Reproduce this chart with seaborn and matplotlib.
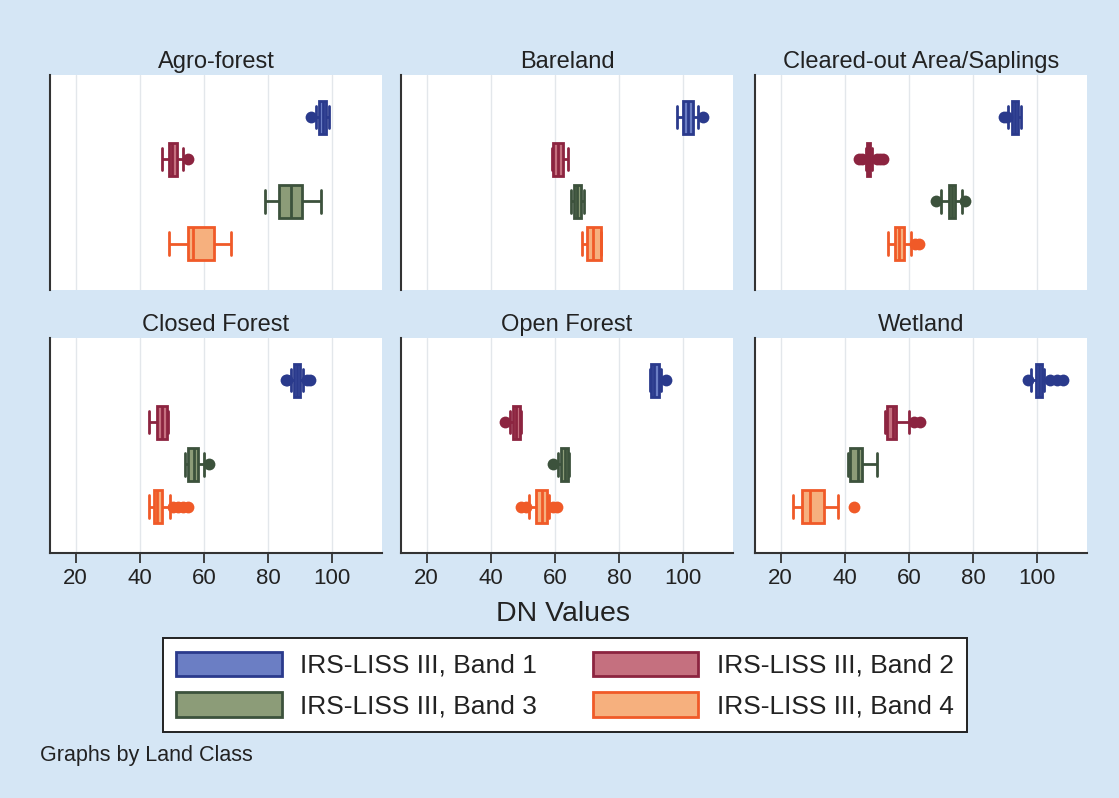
import matplotlib
matplotlib.use('Agg')
import matplotlib.pyplot as plt
from matplotlib.patches import Patch
import numpy as np
import seaborn as sns
import pandas as pd

clases = ['Agro-forest', 'Bareland', 'Cleared-out Area/Saplings',
          'Closed Forest', 'Open Forest', 'Wetland']
bandas = ['IRS-LISS III, Band 1', 'IRS-LISS III, Band 2',
          'IRS-LISS III, Band 3', 'IRS-LISS III, Band 4']

# resumen por banda: bigote inf, Q1, mediana, Q3, bigote sup
agro_forest = [[95, 96, 97, 98, 99], [47, 49, 50, 51.5, 53.5],
               [79, 83.5, 87, 90.5, 96.5], [49, 55, 56.5, 63, 68.5]]
bareland = [[98, 100, 101.5, 103, 104.5], [59, 59.5, 61, 62.5, 64],
            [65, 66, 67, 68, 69], [68.5, 70, 72, 74.5, 74.5]]
cleared_out = [[91, 92, 93, 94, 95], [46.5, 47, 47.5, 48, 48.5],
               [70, 72.5, 73.5, 74.5, 76.5], [53.5, 55.5, 57, 58.5, 60.5]]
closed_forest = [[87, 88, 89, 90, 91], [43, 45.5, 47, 48.5, 48.7],
                 [54, 55, 57, 58, 60], [43, 44.5, 45.5, 47, 49.5]]
open_forest = [[89.5, 90, 91, 92.5, 93], [46, 47, 48, 49, 49.5],
               [61, 62, 63, 64, 64.5], [52, 54, 56, 57.5, 58]]
wetland = [[98, 99.5, 100.5, 101.5, 102], [52.5, 53, 55, 56, 60],
           [41, 41.5, 44, 45.5, 50], [24, 26.5, 29, 33.5, 38]]

# valores atípicos por banda
atip_agro = [[93.5], [55], [], []]
atip_bare = [[106], [], [], []]
atip_cleared = [[89.5, 90.5], [44.5, 45.5, 50, 51, 52], [68.5, 77.5], [62, 63]]
atip_closed = [[85.5, 86, 92, 93], [], [61.5], [50.5, 52, 53.5, 55]]
atip_open = [[94.5], [44.5], [59.5], [49.5, 51, 59.5, 60.5]]
atip_wet = [[97, 104, 106, 108], [61.5, 63.5], [], [43]]

cajas = [agro_forest, bareland, cleared_out, closed_forest, open_forest, wetland]
atipicos = [atip_agro, atip_bare, atip_cleared, atip_closed, atip_open, atip_wet]

relleno = ['#6b7ec4', '#c5707f', '#8c9c78', '#f6b07e']
borde = ['#2a3a8c', '#8c2440', '#3c523c', '#f05a28']
fondo = '#d5e6f5'
ANCHO_CAJA = 0.78

filas = []
filas_atip = []
for clase, caja, atip in zip(clases, cajas, atipicos):
    for banda, valores, extra in zip(bandas, caja, atip):
        filas += [{'clase': clase, 'banda': banda, 'dn': v} for v in valores]
        filas_atip += [{'clase': clase, 'banda': banda, 'dn': v} for v in extra]
df = pd.DataFrame(filas)
df_atip = pd.DataFrame(filas_atip)

sns.set_theme(style='white')
plt.rcParams['font.family'] = ['Liberation Sans', 'DejaVu Sans']

W, H = 1119, 798
fig = plt.figure(figsize=(W / 100, H / 100), dpi=100, facecolor=fondo)

lefts = [50, 401, 755]
tops = [75, 338]
ancho, alto = 332, 215

for i, clase in enumerate(clases):
    fila, col = divmod(i, 3)
    ax = fig.add_axes([lefts[col] / W, 1 - (tops[fila] + alto) / H, ancho / W, alto / H])
    ax.set_facecolor('white')
    for x in [20, 40, 60, 80, 100]:
        ax.axvline(x, color='#e3e7eb', lw=1, zorder=0)

    sub = df[df['clase'] == clase]
    sub_atip = df_atip[df_atip['clase'] == clase]
    for j, banda in enumerate(bandas):
        n_antes = len(ax.lines)
        sns.boxplot(data=sub[sub['banda'] == banda], x='dn', y='banda', order=bandas,
                    whis=(0, 100), width=ANCHO_CAJA, color=relleno[j], linecolor=borde[j],
                    linewidth=2, saturation=1, fliersize=0, ax=ax)
        # alargar los topes de los bigotes (estilo Stata)
        for ln in ax.lines[n_antes:]:
            xd, yd = np.asarray(ln.get_xdata()), np.asarray(ln.get_ydata())
            if len(xd) == 2 and xd[0] == xd[1] and abs(yd[1] - yd[0]) < 0.7 * ANCHO_CAJA:
                c = yd.mean()
                ln.set_ydata([c - 0.34 * ANCHO_CAJA, c + 0.34 * ANCHO_CAJA])
        pts = sub_atip[sub_atip['banda'] == banda]
        if len(pts):
            sns.stripplot(data=pts, x='dn', y='banda', order=bandas, jitter=False,
                          color=borde[j], size=8.5, ax=ax, zorder=4)

    ax.set_xlim(12, 115.5)
    ax.set_ylim(4.1, -1.0)
    ax.set_xlabel('')
    ax.set_ylabel('')
    ax.set_yticks([])
    ax.set_xticks([20, 40, 60, 80, 100])
    ax.set_title(clase, fontsize=17, color='#222222', pad=5)
    for s in ['top', 'right']:
        ax.spines[s].set_visible(False)
    ax.spines['left'].set_color('#333333')
    ax.spines['left'].set_linewidth(1.5)
    if fila == 0:
        ax.spines['bottom'].set_visible(False)
        ax.tick_params(axis='x', bottom=False, labelbottom=False)
    else:
        ax.spines['bottom'].set_color('#333333')
        ax.spines['bottom'].set_linewidth(1.5)
        ax.tick_params(axis='x', bottom=True, direction='out', length=7, width=1.3,
                       color='#333333', labelsize=16, labelcolor='#222222', pad=4)

fig.text(563 / W, 1 - 614 / H, 'DN Values', ha='center', va='center',
         fontsize=20.5, color='#222222')

# orden por filas: Band 1 | Band 2 / Band 3 | Band 4
orden = [0, 2, 1, 3]
handles = [Patch(facecolor=relleno[j], edgecolor=borde[j], linewidth=2) for j in orden]
etiquetas = [bandas[j] for j in orden]
leg = fig.legend(handles, etiquetas, ncol=2, loc='center',
                 bbox_to_anchor=(565 / W, 1 - 685 / H), fontsize=19,
                 frameon=True, fancybox=False, framealpha=1, edgecolor='#222222',
                 handlelength=4.0, handleheight=1.05, handletextpad=0.7,
                 columnspacing=2.1, labelspacing=0.55, borderpad=0.5)
leg.get_frame().set_linewidth(1.4)
leg.get_frame().set_facecolor('white')
for t in leg.get_texts():
    t.set_color('#222222')

fig.text(40 / W, 1 - 756 / H, 'Graphs by Land Class', ha='left', va='center',
         fontsize=15.5, color='#222222')

plt.savefig('out.png', dpi=100, facecolor=fondo)
plt.close()
